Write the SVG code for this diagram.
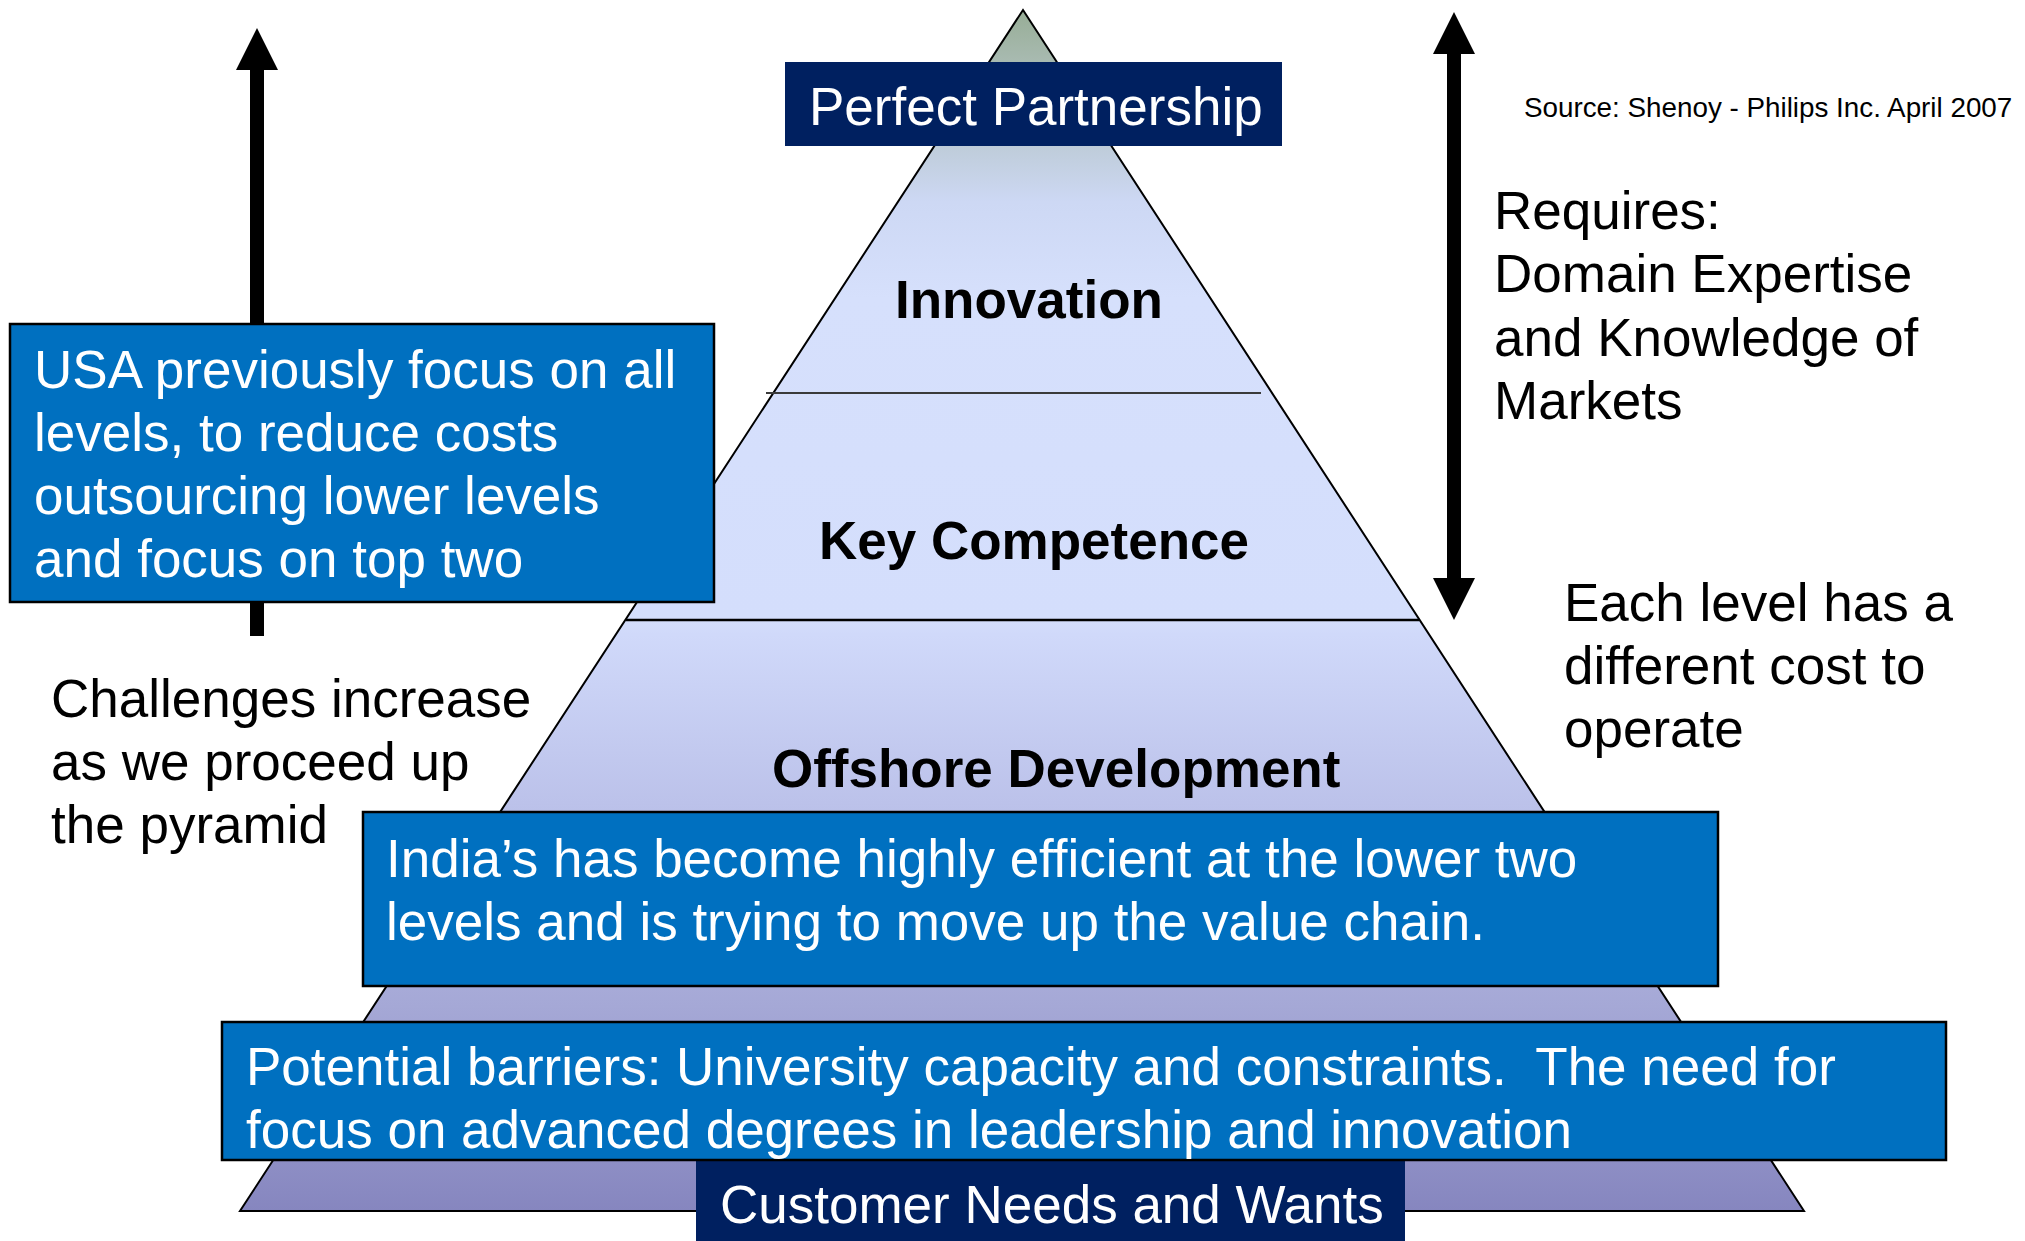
<svg xmlns="http://www.w3.org/2000/svg" width="2025" height="1241" viewBox="0 0 2025 1241">
<defs>
<linearGradient id="pyr" gradientUnits="userSpaceOnUse" x1="0" y1="10" x2="0" y2="1211">
<stop offset="0" stop-color="#97ad96"/>
<stop offset="0.045" stop-color="#a9bbb2"/>
<stop offset="0.16" stop-color="#cdd8f4"/>
<stop offset="0.24" stop-color="#d6e0fc"/>
<stop offset="0.505" stop-color="#d4defc"/>
<stop offset="0.52" stop-color="#d0d9fa"/>
<stop offset="0.66" stop-color="#bcc2ea"/>
<stop offset="0.83" stop-color="#a5a8d6"/>
<stop offset="1" stop-color="#8686bf"/>
</linearGradient>
<marker id="head" markerUnits="userSpaceOnUse" markerWidth="42" markerHeight="42" refX="0" refY="21" orient="auto-start-reverse" viewBox="0 0 42 42">
<path d="M0,0 L42,21 L0,42 z" fill="#000"/>
</marker>
<style>
text{font-family:"Liberation Sans",Arial,sans-serif;font-size:53px}
.w{fill:#fff}
.k{fill:#000}
.b{font-weight:bold}
.navy{fill:#002060}
.blue{fill:#0070c0;stroke:#000;stroke-width:2.5}
.arrow{stroke:#000;stroke-width:14;fill:none}
</style>
</defs>
<rect width="2025" height="1241" fill="#fff"/>

<g id="pyramid">
<path d="M1023,10 L1804,1211 L240,1211 Z" fill="url(#pyr)" stroke="#000" stroke-width="2"/>
<line x1="766" y1="393" x2="1261" y2="393" stroke="#3a3a3a" stroke-width="2"/>
<line x1="626" y1="620" x2="1419" y2="620" stroke="#000" stroke-width="2.5"/>
</g>

<g id="level-innovation"><text class="k b" x="895" y="318">Innovation</text></g>
<g id="level-key"><text class="k b" x="819" y="559">Key Competence</text></g>
<g id="level-offshore"><text class="k b" x="772" y="787">Offshore Development</text></g>

<g id="connectors">
<line class="arrow" x1="257" y1="636" x2="257" y2="70" marker-end="url(#head)"/>
<line class="arrow" x1="1454" y1="54" x2="1454" y2="578" marker-start="url(#head)" marker-end="url(#head)"/>
</g>

<g id="perfect-partnership">
<rect class="navy" x="785" y="62" width="497" height="84"/>
<text class="w" x="809" y="125">Perfect Partnership</text>
</g>

<g id="usa-box">
<rect class="blue" x="10" y="324" width="704" height="278"/>
<text class="w" x="34" y="388">USA previously focus on all</text>
<text class="w" x="34" y="451">levels, to reduce costs</text>
<text class="w" x="34" y="514">outsourcing lower levels</text>
<text class="w" x="34" y="577">and focus on top two</text>
</g>

<g id="challenges">
<text class="k" x="51" y="717">Challenges increase</text>
<text class="k" x="51" y="780">as we proceed up</text>
<text class="k" x="51" y="843">the pyramid</text>
</g>

<g id="source"><text class="k" x="1524" y="117" style="font-size:27.8px">Source: Shenoy - Philips Inc. April 2007</text></g>

<g id="requires">
<text class="k" x="1494" y="229">Requires:</text>
<text class="k" x="1494" y="292">Domain Expertise</text>
<text class="k" x="1494" y="356">and Knowledge of</text>
<text class="k" x="1494" y="419">Markets</text>
</g>

<g id="each-level">
<text class="k" x="1564" y="621">Each level has a</text>
<text class="k" x="1564" y="684">different cost to</text>
<text class="k" x="1564" y="747">operate</text>
</g>

<g id="india-box">
<rect class="blue" x="363" y="812" width="1355" height="174"/>
<text class="w" x="386" y="877">India’s has become highly efficient at the lower two</text>
<text class="w" x="386" y="940">levels and is trying to move up the value chain.</text>
</g>

<g id="customer-box">
<rect class="navy" x="696" y="1161" width="709" height="82"/>
<text class="w" x="720" y="1223">Customer Needs and Wants</text>
</g>

<g id="barriers-box">
<rect class="blue" x="222" y="1022" width="1724" height="138"/>
<text class="w" x="246" y="1085">Potential barriers: University capacity and constraints.&#160; The need for</text>
<text class="w" x="246" y="1148">focus on advanced degrees in leadership and innovation</text>
</g>
</svg>
